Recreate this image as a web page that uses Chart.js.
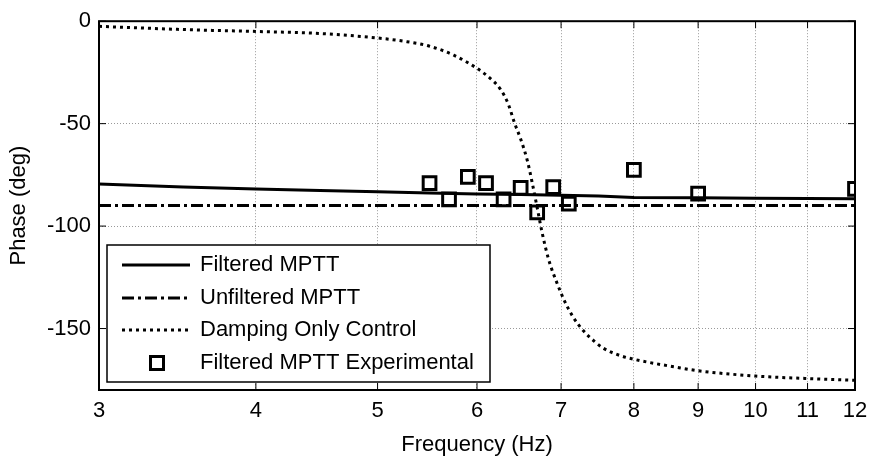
<!DOCTYPE html>
<html>
<head>
<meta charset="utf-8">
<title>Phase vs Frequency</title>
<script src="https://cdn.jsdelivr.net/npm/chart.js@4.4.1/dist/chart.umd.min.js"></script>
<style>
  html, body { margin: 0; padding: 0; background: #fff; }
  #wrap { width: 872px; height: 456px; }
</style>
</head>
<body>
<div id="wrap"><canvas id="phaseChart" width="872" height="456"></canvas></div>
<script>
// tick labels
const freqTicks = [3, 4, 5, 6, 7, 8, 9, 10, 11, 12];
const phaseTicks = [0, -50, -100, -150];

// Filtered MPTT (solid)
const filteredFreq  = [3, 3.5, 4, 4.5, 5, 5.5, 6, 6.5, 7, 7.5, 8, 9, 10, 11, 12];
const filteredPhase = [-79.5, -80.9, -81.9, -82.6, -83.2, -83.8, -84.3, -84.6, -84.9, -85.3, -86.0, -86.2, -86.4, -86.5, -86.7];

// Unfiltered MPTT (dash-dot)
const unfilteredFreq  = [3, 12];
const unfilteredPhase = [-90, -90];

// Damping Only Control (dotted)
const dampingFreq  = [3, 3.3, 3.6, 4, 4.5, 5, 5.25, 5.5, 5.75, 6.0, 6.15, 6.26, 6.35, 6.43, 6.5, 6.58, 6.64, 6.7, 6.76, 6.84, 6.95, 7.05, 7.15, 7.29, 7.45, 7.56, 7.8, 8, 8.67, 9, 10, 11, 12];
const dampingPhase = [-2.5, -3.5, -4.3, -5, -6, -8.2, -9.8, -12.2, -16.6, -23, -28, -33, -40, -50, -57.5, -68, -79, -91, -103, -116, -128, -137, -144, -151, -156.5, -159.5, -163.2, -165, -169, -170.6, -173.2, -174.4, -175.3];

// Filtered MPTT Experimental (squares)
const expFreq  = [5.5, 5.7, 5.9, 6.1, 6.3, 6.5, 6.7, 6.9, 7.1, 8, 9, 12];
const expPhase = [-79, -87, -76, -79, -87, -81.3, -93.3, -81, -89, -72.6, -84.2, -81.8];

const FONT = "'Liberation Sans', Arial, sans-serif";

function toPoints(xs, ys) {
    return xs.map((x, i) => ({x: x, y: ys[i]}));
}

// black box round the axes with inward ticks, like the original figure
const frameBox = {
    id: 'frameBox',
    afterDatasetsDraw(chart) {
        const {ctx, chartArea: a, scales} = chart;
        ctx.save();
        ctx.strokeStyle = '#000';
        ctx.lineWidth = 1;
        const t = 7;
        freqTicks.forEach(v => {
            const x = scales.x.getPixelForValue(v);
            ctx.beginPath();
            ctx.moveTo(x, a.bottom); ctx.lineTo(x, a.bottom - t);
            ctx.moveTo(x, a.top); ctx.lineTo(x, a.top + t);
            ctx.stroke();
        });
        phaseTicks.forEach(v => {
            const y = scales.y.getPixelForValue(v);
            ctx.beginPath();
            ctx.moveTo(a.left, y); ctx.lineTo(a.left + t, y);
            ctx.moveTo(a.right, y); ctx.lineTo(a.right - t, y);
            ctx.stroke();
        });
        ctx.lineWidth = 2;
        ctx.strokeRect(a.left, a.top, a.right - a.left, a.bottom - a.top);
        ctx.restore();
    }
};

// boxed legend in the lower left corner of the plot
const boxLegend = {
    id: 'boxLegend',
    afterDraw(chart) {
        const {ctx, chartArea: a} = chart;
        const w = 383, h = 137;
        const left = a.left + 8, top = a.bottom - 8 - h;
        ctx.save();
        ctx.fillStyle = '#fff';
        ctx.fillRect(left, top, w, h);
        ctx.strokeStyle = '#000';
        ctx.lineWidth = 1.5;
        ctx.strokeRect(left, top, w, h);
        const rows = [20, 53, 85, 118];
        chart.data.datasets.forEach((ds, i) => {
            const y = top + rows[i];
            ctx.strokeStyle = '#000';
            if (ds.showLine === false) {
                ctx.setLineDash([]);
                ctx.lineWidth = ds.borderWidth;
                const s = 13;
                ctx.strokeRect(left + 50 - s / 2, y - s / 2, s, s);
            } else {
                ctx.setLineDash(ds.borderDash || []);
                ctx.lineWidth = ds.borderWidth;
                ctx.beginPath();
                ctx.moveTo(left + 15, y);
                ctx.lineTo(left + 83, y);
                ctx.stroke();
            }
            ctx.setLineDash([]);
            ctx.fillStyle = '#000';
            ctx.font = '22px ' + FONT;
            ctx.textBaseline = 'middle';
            ctx.textAlign = 'left';
            ctx.fillText(ds.label, left + 93, y);
        });
        ctx.restore();
    }
};

const ctx = document.getElementById('phaseChart').getContext('2d');
new Chart(ctx, {
    type: 'line',
    data: {
        datasets: [
            {
                label: 'Filtered MPTT',
                data: toPoints(filteredFreq, filteredPhase),
                borderColor: '#000',
                borderWidth: 3,
                pointRadius: 0,
                fill: false
            },
            {
                label: 'Unfiltered MPTT',
                data: toPoints(unfilteredFreq, unfilteredPhase),
                borderColor: '#000',
                borderWidth: 3,
                borderDash: [12, 4, 3, 4],
                pointRadius: 0,
                fill: false
            },
            {
                label: 'Damping Only Control',
                data: toPoints(dampingFreq, dampingPhase),
                borderColor: '#000',
                borderWidth: 3,
                borderDash: [3, 4],
                cubicInterpolationMode: 'monotone',
                pointRadius: 0,
                fill: false
            },
            {
                label: 'Filtered MPTT Experimental',
                data: toPoints(expFreq, expPhase),
                showLine: false,
                pointStyle: 'rect',
                pointRadius: 9,
                pointBorderWidth: 3,
                borderWidth: 3,
                pointBorderColor: '#000',
                pointBackgroundColor: 'rgba(0,0,0,0)',
                borderColor: '#000'
            }
        ]
    },
    options: {
        responsive: false,
        animation: false,
        devicePixelRatio: 1,
        layout: {
            padding: {left: 0, right: 17, top: 13, bottom: 0}
        },
        scales: {
            x: {
                type: 'logarithmic',
                min: 3,
                max: 12,
                afterBuildTicks: s => { s.ticks = freqTicks.map(v => ({value: v})); },
                afterFit: s => { s.height = 66; s.paddingLeft = 0; s.paddingRight = 0; },
                ticks: {
                    color: '#000',
                    font: {family: FONT, size: 22},
                    padding: 8,
                    maxRotation: 0,
                    autoSkip: false,
                    callback: v => String(v)
                },
                grid: {
                    color: 'rgba(0,0,0,0.4)',
                    drawTicks: false
                },
                border: {display: false, dash: [1, 2]},
                title: {
                    display: true,
                    text: 'Frequency (Hz)',
                    color: '#000',
                    font: {family: FONT, size: 22, lineHeight: 1},
                    padding: {top: 0, bottom: 0}
                }
            },
            y: {
                type: 'linear',
                min: -180,
                max: 0,
                afterBuildTicks: s => { s.ticks = phaseTicks.map(v => ({value: v})); },
                afterFit: s => { s.width = 99; },
                ticks: {
                    color: '#000',
                    font: {family: FONT, size: 22},
                    padding: 8
                },
                grid: {
                    color: 'rgba(0,0,0,0.4)',
                    drawTicks: false
                },
                border: {display: false, dash: [1, 2]},
                title: {
                    display: true,
                    text: 'Phase (deg)',
                    color: '#000',
                    font: {family: FONT, size: 22, lineHeight: 1.2},
                    padding: {top: 6, bottom: 0}
                }
            }
        },
        plugins: {
            legend: {display: false},
            tooltip: {enabled: false}
        }
    },
    plugins: [frameBox, boxLegend]
});
</script>
</body>
</html>
